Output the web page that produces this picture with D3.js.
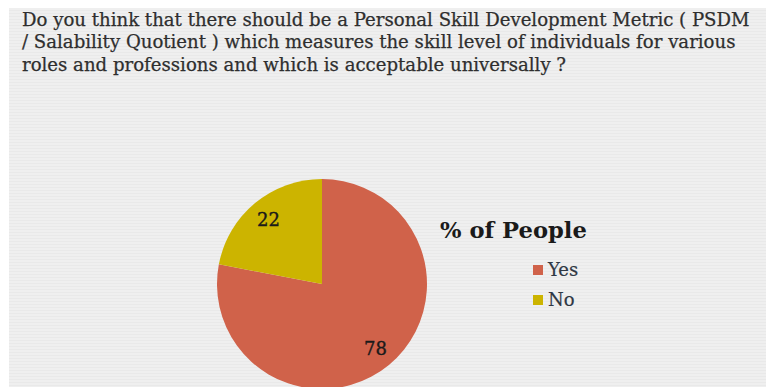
<!DOCTYPE html>
<html>
<head>
<meta charset="utf-8">
<script src="https://cdn.jsdelivr.net/npm/d3@7"></script>
<style>
  html, body { margin: 0; padding: 0; background: #ffffff; }
  svg { display: block; }
</style>
</head>
<body>
<svg id="chart" width="766" height="387"></svg>
<script>
// Survey question and answers
const titleLines = [
  "Do you think that there should be a Personal Skill Development Metric ( PSDM",
  "/ Salability Quotient ) which measures the skill level of individuals for various",
  "roles and professions and which is acceptable universally ?"
];
const categories = ["Yes", "No"];
const values = [78, 22];
const sliceColors = ["#d0624a", "#ccb400"];
const legendTitle = "% of People";

const W = 766, H = 387;
const svg = d3.select("#chart");
const serif = "'DejaVu Serif', 'Liberation Serif', serif";

// striped grey panel
const defs = svg.append("defs");
const pat = defs.append("pattern")
  .attr("id", "stripes").attr("patternUnits", "userSpaceOnUse")
  .attr("width", 8).attr("height", 3);
pat.append("rect").attr("width", 8).attr("height", 3).attr("fill", "#efefef");
pat.append("rect").attr("y", 1).attr("width", 8).attr("height", 1).attr("fill", "#e9e9e9");

svg.append("rect").attr("x", 9).attr("y", 8).attr("width", W - 9).attr("height", H - 8)
  .attr("fill", "url(#stripes)");

// scale a text element's font size so its natural width hits a target
function fitSize(sel, base, target) {
  sel.attr("font-size", base);
  const w = sel.node().getComputedTextLength();
  const s = base * target / w;
  sel.attr("font-size", s);
  return s;
}

// title: first line sets the size for all three
const titleG = svg.append("g");
const titleTexts = titleLines.map((t, i) => titleG.append("text")
  .attr("x", 22).attr("y", 25.5 + i * 22.5)
  .attr("font-family", serif)
  .attr("fill", "#2e2e2e")
  .attr("stroke", "#2e2e2e").attr("stroke-width", 0.25)
  .text(t));
const titleSize = fitSize(titleTexts[0], 15, 728);
titleTexts.forEach(t => t.attr("font-size", titleSize));

// pie
const cx = 322, cy = 284, R = 105;
const pie = d3.pie().sort(null).value(d => d.v);
const data = pie(categories.map((c, i) => ({ c, v: values[i] })));
const color = d3.scaleOrdinal().domain(categories).range(sliceColors);
const arc = d3.arc().innerRadius(0).outerRadius(R);
const labelArc = d3.arc().innerRadius(84).outerRadius(84);

const pg = svg.append("g").attr("transform", `translate(${cx},${cy})`);
pg.selectAll("path").data(data).join("path")
  .attr("d", arc)
  .attr("fill", d => color(d.data.c));

pg.selectAll("text").data(data).join("text")
  .attr("transform", d => `translate(${labelArc.centroid(d)})`)
  .attr("text-anchor", "middle").attr("dy", "0.35em")
  .attr("font-family", serif).attr("font-size", 18)
  .attr("fill", "#1a1a1a")
  .attr("stroke", "#1a1a1a").attr("stroke-width", 0.35)
  .text(d => d.data.v);

// legend
const lg = svg.append("g");
const lt = lg.append("text")
  .attr("x", 440).attr("y", 238)
  .attr("font-family", serif).attr("font-weight", "bold")
  .attr("fill", "#1a1a1a")
  .text(legendTitle);
fitSize(lt, 18, 147);

const items = lg.selectAll("g.item").data(categories).join("g")
  .attr("class", "item")
  .attr("transform", (d, i) => `translate(533,${265 + i * 30})`);
items.append("rect").attr("width", 10).attr("height", 10)
  .attr("fill", d => color(d));
items.append("text")
  .attr("x", 15).attr("y", 10.5)
  .attr("font-family", serif).attr("font-size", 18)
  .attr("fill", "#2f3844")
  .attr("stroke", "#2f3844").attr("stroke-width", 0.2)
  .text(d => d);
</script>
</body>
</html>
